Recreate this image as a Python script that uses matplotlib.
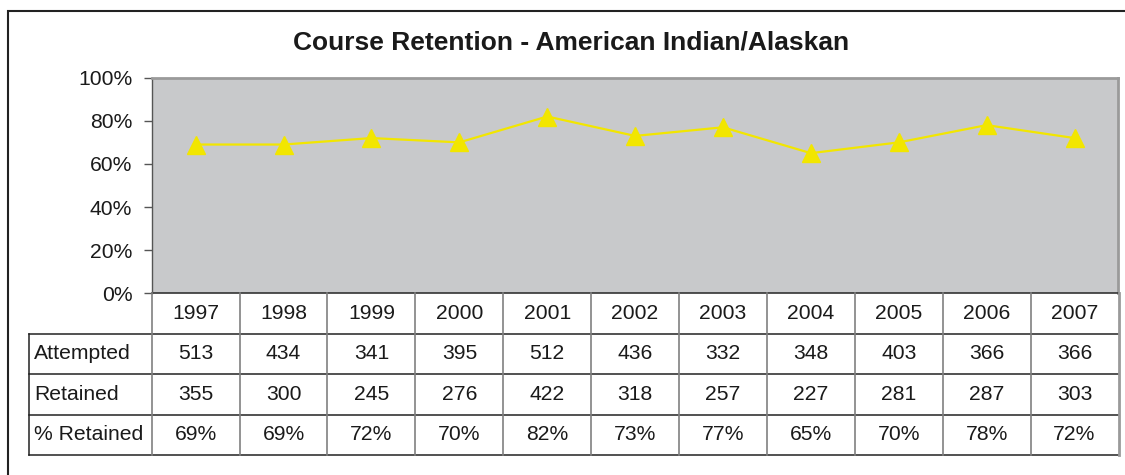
import matplotlib
matplotlib.use("Agg")
import matplotlib.pyplot as plt
from matplotlib.lines import Line2D
from matplotlib.patches import Rectangle

plt.rcParams['font.family'] = ['Liberation Sans', 'DejaVu Sans']

years = ['1997', '1998', '1999', '2000', '2001', '2002', '2003', '2004', '2005', '2006', '2007']
attempted = [513, 434, 341, 395, 512, 436, 332, 348, 403, 366, 366]
retained = [355, 300, 245, 276, 422, 318, 257, 227, 281, 287, 303]
pct_retained = [69, 69, 72, 70, 82, 73, 77, 65, 70, 78, 72]
row_labels = ['Attempted', 'Retained', '% Retained']
y_ticks = [0, 20, 40, 60, 80, 100]

W, H = 1125, 475
fig = plt.figure(figsize=(W / 100, H / 100), dpi=100)
fig.patch.set_facecolor('white')

TXT = '#1a1a1a'
FS = 15.2

def fx(px):
    return px / W

def fy(py):
    return 1 - py / H

# plot area (pixel coords)
pl, pr, pt, pb = 151.7, 1118.5, 77.7, 293.3
ax = fig.add_axes([fx(pl), fy(pb), fx(pr - pl), (pb - pt) / H])
ax.set_facecolor('#c8c9cb')
n = len(years)
x = list(range(n))
ax.plot(x, pct_retained, color='#f2e600', lw=1.6, marker='^', ms=12.5,
        markeredgecolor='#f2e600', markerfacecolor='#f2e600', zorder=3)
ax.set_xlim(-0.5, n - 0.5)
ax.set_ylim(0, 100)
ax.set_yticks(y_ticks)
ax.set_yticklabels([f'{v}%' for v in y_ticks], fontsize=FS, color=TXT)
ax.tick_params(axis='y', length=6, width=1, color='#555555', pad=8)
ax.set_xticks([])
for s in ['top', 'right']:
    ax.spines[s].set_color('#9a9a9a')
    ax.spines[s].set_linewidth(2)
ax.spines['left'].set_color('#555555')
ax.spines['left'].set_linewidth(1)
ax.spines['bottom'].set_color('#333333')
ax.spines['bottom'].set_linewidth(1.2)

# table axes sharing the same x scale
tl, tb = 29.0, 455.0
label_w = (pl - tl) / ((pr - pl) / n)
tax = fig.add_axes([fx(tl), fy(tb), fx(pr - tl), (tb - pb) / H])
tax.set_xlim(-0.5 - label_w, n - 0.5)
tax.set_ylim(4, 0)
tax.axis('off')
x0 = -0.5 - label_w

rows = [attempted, retained, [f'{v}%' for v in pct_retained]]
# year row
for i, yr in enumerate(years):
    tax.text(i, 0.5, yr, ha='center', va='center', fontsize=FS, color=TXT)
for r, (lab, vals) in enumerate(zip(row_labels, rows)):
    tax.text(x0 + 0.06, r + 1.5, lab, ha='left', va='center', fontsize=FS, color=TXT)
    for i, v in enumerate(vals):
        tax.text(i, r + 1.5, str(v), ha='center', va='center', fontsize=FS, color=TXT)

# horizontal lines
for yy in [1, 2, 3, 4]:
    tax.add_line(Line2D([x0, n - 0.5], [yy, yy], color='#222222', lw=1.1, clip_on=False))
# vertical lines
for k in range(n + 1):
    col = '#9a9a9a' if k == n else '#808080'
    lw = 2 if k == n else 1.2
    tax.add_line(Line2D([k - 0.5, k - 0.5], [0, 4], color=col, lw=lw, clip_on=False))
tax.add_line(Line2D([x0, x0], [1, 4], color='#222222', lw=1.1, clip_on=False))

# title
fig.text(fx(571), fy(42), 'Course Retention - American Indian/Alaskan',
         ha='center', va='center', fontsize=19, fontweight='bold', color=TXT)

# outer frame (left and top edges visible)
fig.add_artist(Rectangle((fx(7.5), fy(700)), 2, fy(10.5) - fy(700), transform=fig.transFigure,
                         fill=False, edgecolor='#222222', lw=1.5))

fig.savefig('out.png', dpi=100, facecolor='white')
